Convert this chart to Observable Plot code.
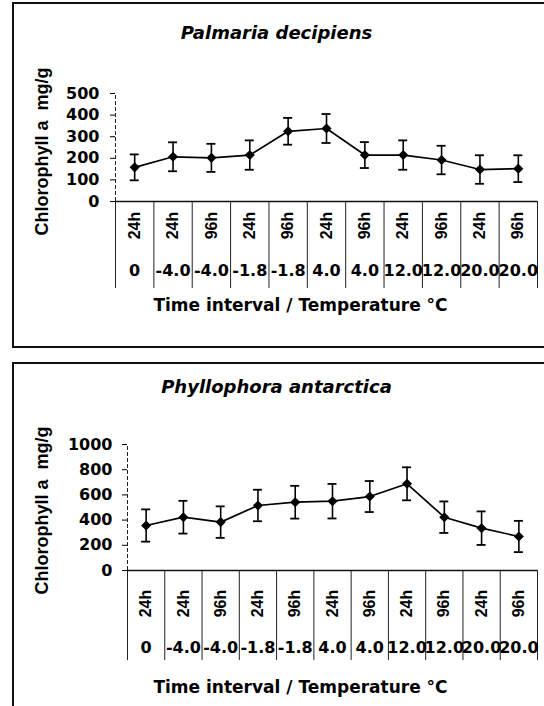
<!DOCTYPE html>
<html><head><meta charset="utf-8">
<script src="https://cdn.jsdelivr.net/npm/d3@7"></script>
<script src="https://cdn.jsdelivr.net/npm/@observablehq/plot@0.6"></script>
<style>
html,body{margin:0;padding:0;background:#fff;}
#page{position:relative;width:544px;height:706px;overflow:hidden;background:#fff;}
.frame{position:absolute;box-sizing:border-box;border:0 solid #111;}
#frame1{left:12px;top:2px;width:560px;height:346px;border-left-width:2px;border-top-width:2px;border-bottom-width:2px;}
#frame2{left:12px;top:362px;width:560px;height:400px;border-left-width:2px;border-top-width:2px;}
.panel{position:absolute;left:0;}
#panel1{top:0px;}
#panel2{top:355px;}
</style></head><body>
<div id="page">
<div class="frame" id="frame1"></div>
<div class="frame" id="frame2"></div>
<div class="panel" id="panel1"></div>
<div class="panel" id="panel2"></div>
</div>
<script>
// ---- data ----
const timeLabels = ["24h","24h","96h","24h","96h","24h","96h","24h","96h","24h","96h"];
const tempLabels = ["0","-4.0","-4.0","-1.8","-1.8","4.0","4.0","12.0","12.0","20.0","20.0"];
const palmariaMean = [158, 207, 202, 215, 325, 338, 215, 215, 192, 148, 152];
const palmariaErr  = [60, 67, 65, 68, 62, 67, 60, 68, 66, 66, 62];
const phyllophoraMean = [357, 423, 384, 516, 542, 550, 587, 688, 423, 336, 270];
const phyllophoraErr  = [128, 130, 125, 125, 130, 137, 123, 131, 125, 133, 124];
const palmariaTicks = [0, 100, 200, 300, 400, 500];
const phyllophoraTicks = [0, 200, 400, 600, 800, 1000];
const titles = ["Palmaria decipiens", "Phyllophora antarctica"];
const yTitle = "Chlorophyll a\u00a0 mg/g";
const xTitle = "Time interval / Temperature \u00b0C";

const n = timeLabels.length;
const boundaries = d3.range(0, n + 1);

function panel(cfg) {
  const rows = timeLabels.map((t, i) => ({
    x: i + 0.5, time: t, temp: tempLabels[i],
    mean: cfg.mean[i], lo: cfg.mean[i] - cfg.err[i], hi: cfg.mean[i] + cfg.err[i]
  }));
  const yMax = cfg.ticks[cfg.ticks.length - 1];
  const bold = {fontWeight: "bold", textAnchor: "middle", lineAnchor: "middle"};
  return Plot.plot({
    width: 544,
    height: cfg.height,
    marginLeft: cfg.marginLeft,
    marginRight: 7,
    marginTop: cfg.marginTop,
    marginBottom: cfg.marginBottom,
    x: {domain: [0, n], axis: null},
    y: {domain: [0, yMax]},
    style: {background: "transparent", overflow: "visible", color: "#000", fontFamily: "DejaVu Sans"},
    marks: [
      Plot.ruleX([0], {y1: 0, y2: yMax, stroke: "#222", strokeWidth: 1, strokeDasharray: "4,2"}),
      Plot.ruleX(boundaries, {x: d => d, y1: 0, y2: 0, insetBottom: -cfg.sepLen, stroke: "#222", strokeWidth: 1}),
      Plot.ruleY([0], {stroke: "#111", strokeWidth: 1.3}),
      Plot.axisY({ticks: cfg.ticks, tickSize: 5, tickPadding: cfg.tickPadding, fontSize: 16, fontWeight: "bold", label: null, tickFormat: d => String(d)}),
      Plot.ruleX(rows, {x: "x", y1: "lo", y2: "hi", stroke: "#000", strokeWidth: 1.6}),
      Plot.ruleY(rows, {y: "hi", x1: "x", x2: "x", insetLeft: -4.5, insetRight: -4.5, stroke: "#000", strokeWidth: 1.8}),
      Plot.ruleY(rows, {y: "lo", x1: "x", x2: "x", insetLeft: -4.5, insetRight: -4.5, stroke: "#000", strokeWidth: 1.8}),
      Plot.line(rows, {x: "x", y: "mean", stroke: "#000", strokeWidth: 1.7}),
      Plot.dot(rows, {x: "x", y: "mean", symbol: "diamond2", r: 3.6, fill: "#000", stroke: "#000"}),
      Plot.text(rows, {x: "x", text: "time", frameAnchor: "bottom", dy: cfg.row1, rotate: -90, fontFamily: "Liberation Sans", fontSize: 16, ...bold}),
      Plot.text(rows, {x: "x", text: "temp", frameAnchor: "bottom", dy: cfg.row2, fontSize: 16, ...bold}),
      Plot.text([cfg.title], {text: d => d, frameAnchor: "top", dx: cfg.titleDx, dy: cfg.titleDy, fontSize: 18, fontStyle: "italic", ...bold}),
      Plot.text([yTitle], {text: d => d, frameAnchor: "left", dx: cfg.yTitleDx, dy: cfg.yTitleDy, rotate: -90, fontFamily: "Liberation Sans", fontSize: 18, ...bold}),
      Plot.text([xTitle], {text: d => d, frameAnchor: "bottom", dx: cfg.xTitleDx, dy: cfg.xTitleDy, fontSize: 17, ...bold})
    ]
  });
}

document.getElementById("panel1").append(panel({
  mean: palmariaMean, err: palmariaErr, ticks: palmariaTicks, title: titles[0],
  height: 347, marginLeft: 115, marginTop: 93, marginBottom: 146,
  tickPadding: 11, sepLen: 87, row1: 24, row2: 69,
  titleDx: -50, titleDy: -60, yTitleDx: -73, yTitleDy: 4, xTitleDx: -26, xTitleDy: 104
}));

document.getElementById("panel2").append(panel({
  mean: phyllophoraMean, err: phyllophoraErr, ticks: phyllophoraTicks, title: titles[1],
  height: 351, marginLeft: 127, marginTop: 89, marginBottom: 136,
  tickPadding: 10, sepLen: 90, row1: 33, row2: 77,
  titleDx: -56, titleDy: -57, yTitleDx: -85, yTitleDy: 3, xTitleDx: -32, xTitleDy: 117
}));
</script>
</body></html>
